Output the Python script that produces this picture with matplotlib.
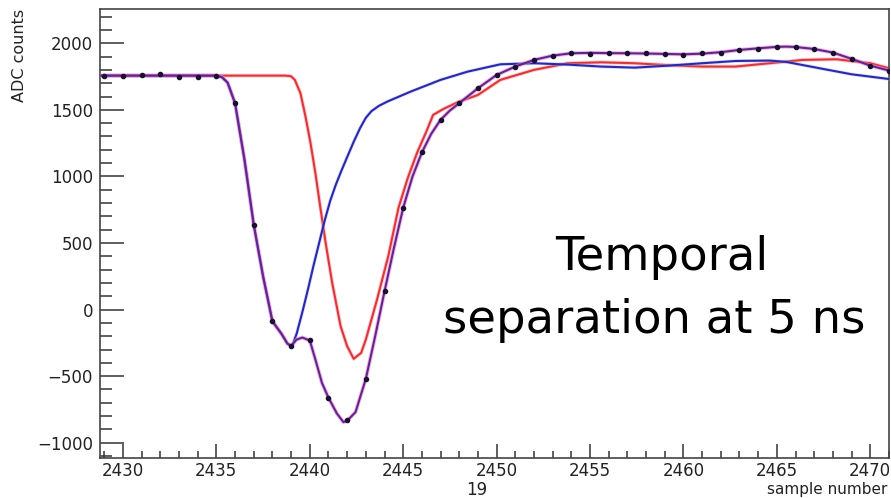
import matplotlib.pyplot as plt
from matplotlib.ticker import MultipleLocator

# ADC samples (one per sample number)
samples = list(range(2429, 2472))
sample_adc = [1755, 1755, 1765, 1770, 1750, 1750, 1755, 1550, 638, -88,
              -275, -230, -662, -830, -520, 137, 765, 1180, 1425, 1550,
              1662, 1762, 1825, 1875, 1907, 1930, 1920, 1925, 1925, 1925,
              1920, 1915, 1925, 1930, 1950, 1958, 1975, 1975, 1958, 1930,
              1882, 1832, 1795]

# combined two-pulse fit
fit_t = [2428.8, 2435.0, 2435.3, 2435.6, 2436.0, 2436.5, 2437.0, 2437.5,
         2438.0, 2438.5, 2438.8, 2439.0, 2439.3, 2439.6, 2440.0, 2440.3,
         2440.65, 2441.0, 2441.45, 2441.8, 2442.0, 2442.45, 2443.0, 2443.5,
         2444.0, 2444.5, 2445.0, 2445.5, 2446.0, 2446.5, 2447.0, 2447.5,
         2448.0, 2449.0, 2450.0, 2451.0, 2452.0, 2453.0, 2454.0, 2455.0,
         2456.0, 2457.0, 2458.0, 2459.0, 2460.0, 2461.0, 2462.0, 2463.0,
         2464.0, 2465.0, 2465.5, 2466.0, 2467.0, 2468.0, 2469.0, 2470.0,
         2471.2]
fit_adc = [1757, 1757, 1745, 1705, 1550, 1130, 638, 250,
           -88, -185, -255, -272, -225, -210, -232, -375,
           -550, -662, -780, -845, -835, -770, -520, -200,
           137, 460, 765, 1000, 1180, 1320, 1425, 1495,
           1550, 1662, 1762, 1825, 1875, 1907, 1925, 1928,
           1926, 1925, 1923, 1920, 1917, 1922, 1933, 1950,
           1962, 1973, 1975, 1972, 1957, 1930, 1883, 1832,
           1788]

# first pulse component
blue_t = [2428.8, 2435.0, 2435.3, 2435.6, 2436.0, 2436.5, 2437.0, 2437.5,
          2438.0, 2438.5, 2438.8, 2439.05, 2439.3, 2439.6, 2439.9, 2440.2,
          2440.5, 2440.8, 2441.1, 2441.4, 2441.7, 2442.0, 2442.35, 2442.7,
          2443.0, 2443.3, 2443.7, 2444.15, 2445.4, 2447.0, 2448.45, 2450.2,
          2452.0, 2453.8, 2455.6, 2457.4, 2459.2, 2461.0, 2462.8, 2464.6,
          2465.5, 2467.3, 2469.0, 2471.2]
blue_adc = [1757, 1757, 1745, 1705, 1550, 1130, 638, 250,
            -88, -185, -255, -275, -180, -20, 150, 330,
            500, 670, 820, 940, 1045, 1145, 1260, 1365,
            1440, 1490, 1530, 1562, 1637, 1725, 1787, 1842,
            1850, 1840, 1825, 1817, 1832, 1850, 1867, 1870,
            1860, 1812, 1767, 1728]

# second pulse component
red_t = [2428.8, 2438.7, 2439.0, 2439.2, 2439.5, 2439.77, 2440.04, 2440.3,
         2440.53, 2440.85, 2441.2, 2441.65, 2442.0, 2442.35, 2442.75, 2443.0,
         2443.6, 2444.2, 2444.75, 2445.25, 2445.75, 2446.25, 2446.6, 2447.2,
         2448.0, 2449.0, 2450.2, 2452.0, 2453.8, 2455.6, 2457.4, 2459.2,
         2461.0, 2462.8, 2464.6, 2466.4, 2468.2, 2470.0, 2471.2]
red_adc = [1757, 1757, 1752, 1725, 1625, 1450, 1250, 1025,
           800, 500, 200, -125, -275, -370, -325, -225,
           75, 400, 765, 990, 1180, 1340, 1462, 1510,
           1562, 1612, 1725, 1800, 1850, 1857, 1850, 1835,
           1825, 1825, 1850, 1875, 1880, 1850, 1805]

plt.rcParams['font.family'] = 'DejaVu Sans'
fig = plt.figure(figsize=(8.91, 4.98), dpi=100)
ax = fig.add_axes([0.1122, 0.0797, 0.8855, 0.9016])

# pulses with a soft halo around each line
ax.plot(red_t, red_adc, color='#ffa0b0', lw=2.9, alpha=0.55, zorder=1)
ax.plot(red_t, red_adc, color='#d83a3a', lw=1.5, zorder=2)
ax.plot(blue_t, blue_adc, color='#b0b0ff', lw=2.6, alpha=0.45, zorder=3)
ax.plot(blue_t, blue_adc, color='#2a2aa8', lw=1.5, zorder=4)
ax.plot(fit_t, fit_adc, color='#f080f0', lw=2.9, alpha=0.6, zorder=5)
ax.plot(fit_t, fit_adc, color='#5e2a80', lw=1.5, zorder=6)
ax.plot(samples, sample_adc, 'o', color='#1a1030', ms=3.0, zorder=7)

ax.set_xlim(2428.77, 2471.0)
ax.set_ylim(-1117, 2255)

ax.xaxis.set_major_locator(MultipleLocator(5))
ax.xaxis.set_minor_locator(MultipleLocator(1))
ax.yaxis.set_major_locator(MultipleLocator(500))
ax.yaxis.set_minor_locator(MultipleLocator(100))
ax.tick_params(axis='both', which='both', direction='in', colors='#333333',
               labelcolor='#222222', labelsize=12, width=1.1)
ax.tick_params(axis='x', which='major', length=10, pad=2.5)
ax.tick_params(axis='x', which='minor', length=5)
ax.tick_params(axis='y', which='major', length=17, pad=5)
ax.tick_params(axis='y', which='minor', length=8.5)
ax.set_yticks([-1000, -500, 0, 500, 1000, 1500, 2000])
ax.set_yticklabels(['\u22121000', '\u2212500', '0', '500', '1000', '1500', '2000'])

for side in ax.spines.values():
    side.set_color('#444444')
    side.set_linewidth(1.2)

ax.set_ylabel('ADC counts', fontsize=11.5, color='#222222')
ax.yaxis.set_label_coords(-0.093, 1.0)
ax.yaxis.label.set_ha('right')

fig.text(0.9955, 0.009, 'sample number', ha='right', va='baseline',
         fontsize=11, color='#222222')
fig.text(0.535, 0.006, '19', ha='center', va='baseline', fontsize=12,
         color='#222222')

ax.text(0.712, 0.419, 'Temporal', transform=ax.transAxes, ha='center',
        va='baseline', fontsize=33.5, color='black')
ax.text(0.702, 0.279, 'separation at 5 ns', transform=ax.transAxes,
        ha='center', va='baseline', fontsize=33.5, color='black')

fig.savefig('out.png', dpi=100)
